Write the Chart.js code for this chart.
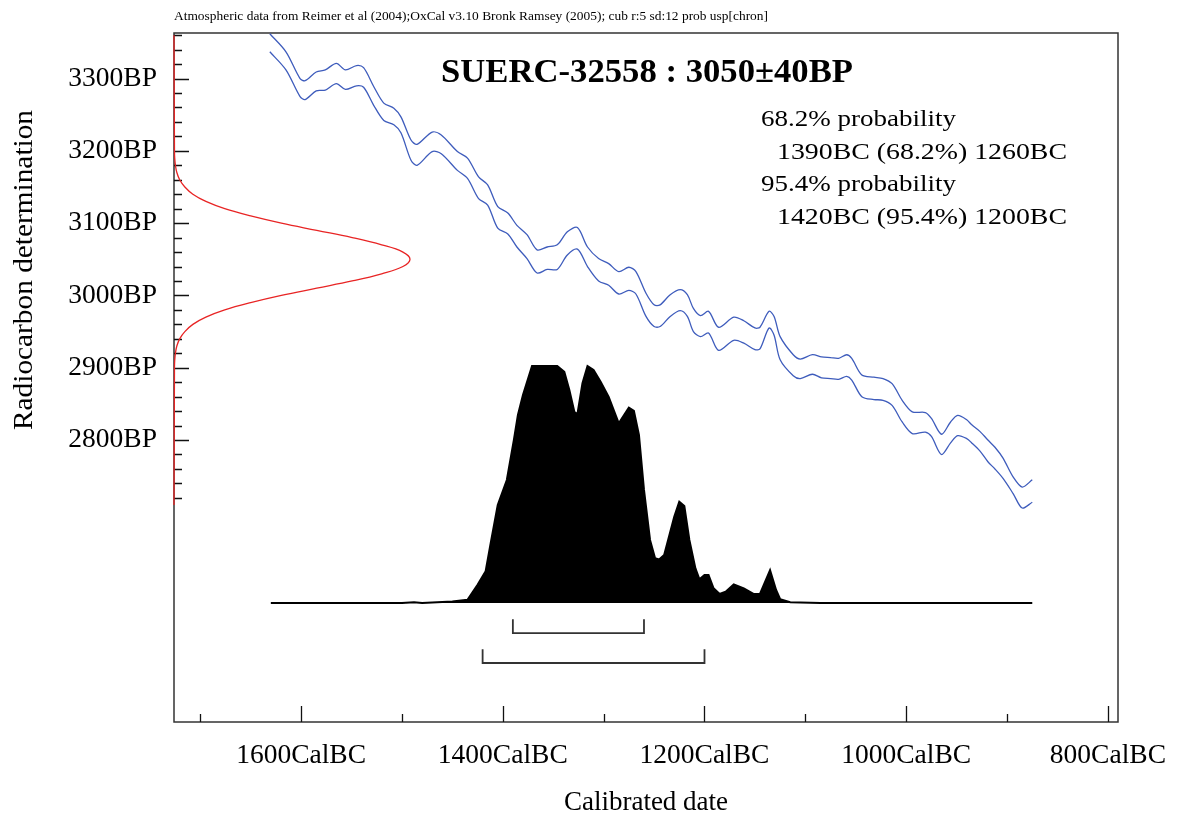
<!DOCTYPE html>
<html>
<head>
<meta charset="utf-8">
<script src="https://cdn.jsdelivr.net/npm/chart.js@4.4.1/dist/chart.umd.min.js"></script>
<style>
html, body { margin: 0; padding: 0; background: #fff; }
canvas { display: block; }
</style>
</head>
<body>
<canvas id="chart" width="1178" height="819"></canvas>
<script>
// calibration curve, upper and lower 1 sigma lines (cal BC / BP)
const curveYears = [1631, 1615, 1601, 1596, 1585, 1576, 1565, 1556, 1545, 1538, 1528, 1518, 1508, 1501, 1491, 1485,
    1470, 1461, 1445, 1435, 1424, 1415, 1405, 1395, 1386, 1376, 1366, 1356, 1346, 1336, 1326, 1316, 1305, 1295,
    1285, 1275, 1268, 1258, 1250, 1244, 1234, 1224, 1217, 1211, 1204, 1196, 1186, 1171, 1161, 1150, 1145, 1136,
    1131, 1125, 1112, 1105, 1093, 1084, 1075, 1067, 1059, 1054, 1044, 1032, 1023, 1014, 1004, 994, 981, 975, 965,
    956, 949, 940, 935, 927, 919, 912, 904, 894, 885, 875];
const curveUpper = [3362, 3337, 3300, 3297, 3309, 3312, 3321, 3312, 3318, 3315, 3289, 3266, 3259, 3247, 3215, 3209,
    3226, 3222, 3199, 3190, 3164, 3153, 3123, 3114, 3097, 3084, 3063, 3067, 3070, 3088, 3094, 3067, 3051, 3044,
    3033, 3039, 3033, 3003, 2987, 2987, 3001, 3008, 3001, 2982, 2972, 2978, 2956, 2970, 2965, 2955, 2956, 2978,
    2971, 2943, 2918, 2912, 2918, 2915, 2914, 2913, 2918, 2913, 2890, 2887, 2885, 2878, 2855, 2839, 2838, 2830, 2808,
    2825, 2834, 2828, 2821, 2812, 2800, 2790, 2775, 2749, 2735, 2745];
const curveLower = [3337, 3312, 3275, 3271, 3283, 3284, 3293, 3285, 3290, 3288, 3263, 3242, 3236, 3225, 3187, 3180,
    3199, 3196, 3173, 3162, 3134, 3125, 3093, 3085, 3067, 3051, 3031, 3036, 3036, 3056, 3064, 3040, 3020, 3014,
    3002, 3007, 3002, 2971, 2957, 2957, 2971, 2979, 2971, 2950, 2943, 2948, 2924, 2938, 2934, 2925, 2926, 2955,
    2945, 2911, 2889, 2885, 2891, 2886, 2885, 2884, 2888, 2883, 2860, 2856, 2855, 2848, 2825, 2809, 2811, 2805, 2780,
    2796, 2806, 2802, 2796, 2785, 2770, 2760, 2747, 2726, 2706, 2714];

// radiocarbon measurement 3050 +/- 40 BP, relative density
const dateBP = [3360, 3200, 3190, 3180, 3170, 3160, 3150, 3140, 3130, 3120, 3110, 3100, 3090, 3080, 3070, 3060, 3050,
    3040, 3030, 3020, 3010, 3000, 2990, 2980, 2970, 2960, 2950, 2940, 2930, 2920, 2910, 2900, 2710];
const dateDensity = [0, 0.002, 0.003, 0.006, 0.012, 0.024, 0.046, 0.08, 0.135, 0.215, 0.325, 0.455, 0.605, 0.755, 0.88,
    0.97, 1, 0.97, 0.88, 0.755, 0.605, 0.455, 0.325, 0.215, 0.135, 0.08, 0.046, 0.024, 0.012, 0.006, 0.003, 0.002, 0];

// calibrated date, relative probability
const probYears = [1630, 1500, 1488, 1480, 1450, 1435, 1425, 1417, 1412, 1405, 1396, 1389, 1385, 1380, 1371, 1362,
    1346, 1339, 1334, 1329, 1326, 1321, 1316, 1310, 1303, 1295, 1285, 1275, 1270, 1265, 1260, 1254, 1249, 1245, 1240,
    1230, 1225, 1220, 1215, 1209, 1205, 1200, 1196, 1191, 1185, 1179, 1171, 1161, 1151, 1145, 1135, 1129, 1125, 1115,
    1085, 875];
const probValues = [0, 0, 0.003, 0, 0.006, 0.014, 0.077, 0.134, 0.253, 0.413, 0.519, 0.688, 0.793, 0.878, 1, 1,
    1, 0.975, 0.899, 0.806, 0.797, 0.927, 1, 0.983, 0.934, 0.87, 0.758, 0.824, 0.811, 0.709, 0.477, 0.266, 0.189, 0.184,
    0.203, 0.364, 0.427, 0.409, 0.266, 0.146, 0.1, 0.118, 0.118, 0.062, 0.038, 0.048, 0.079, 0.062, 0.038, 0.038,
    0.139, 0.055, 0.016, 0.003, 0, 0];

// 68.2% and 95.4% ranges
const rangeFrom = [1390, 1420];
const rangeTo = [1260, 1200];

const xTickValues = [1700, 1600, 1500, 1400, 1300, 1200, 1100, 1000, 900, 800];
const xLabelValues = [1600, 1400, 1200, 1000, 800];
const yLabelValues = [2800, 2900, 3000, 3100, 3200, 3300];

const captionText = 'Atmospheric data from Reimer et al (2004);OxCal v3.10 Bronk Ramsey (2005); cub r:5 sd:12 prob usp[chron]';
const titleText = 'SUERC-32558 : 3050\u00b140BP';
const infoLines = ['68.2% probability', '  1390BC (68.2%) 1260BC', '95.4% probability', '  1420BC (95.4%) 1200BC'];

const serif = "'Liberation Serif', 'Times New Roman', serif";
const blue = 'rgb(62,92,188)';
const red = 'rgb(232,36,36)';

// minor ticks every 20 BP
const yTickValues = [];
for (let v = 2720; v <= 3360; v += 20) yTickValues.push(v);

const xy = (xs, ys) => xs.map((x, i) => ({ x: x, y: ys[i] }));

// bracket levels under the distribution (units of the probability axis)
const bracketTop = [-0.068, -0.195];
const bracketBottom = [-0.127, -0.253];
const brackets = rangeFrom.map((from, i) => ({
    data: [
        { x: from, y: bracketTop[i] }, { x: from, y: bracketBottom[i] },
        { x: rangeTo[i], y: bracketBottom[i] }, { x: rangeTo[i], y: bracketTop[i] }
    ],
    xAxisID: 'x', yAxisID: 'yp',
    borderColor: '#333', borderWidth: 1.8, pointRadius: 0, tension: 0, fill: false
}));

function fitText(ctx, text, x, y, width, font) {
    ctx.font = font;
    const w = ctx.measureText(text.trimStart()).width;
    ctx.save();
    ctx.translate(x, y);
    ctx.scale(width / w, 1);
    ctx.fillText(text.trimStart(), 0, 0);
    ctx.restore();
}

const frame = {
    id: 'frame',
    beforeDatasetsDraw(chart) {
        const ctx = chart.ctx;
        const a = chart.chartArea;
        const sx = chart.scales.x, sy = chart.scales.y;
        ctx.save();
        ctx.strokeStyle = '#333';
        ctx.lineWidth = 1.5;
        ctx.strokeRect(a.left, a.top, a.right - a.left, a.bottom - a.top);
        ctx.strokeStyle = '#111';
        ctx.lineWidth = 1.3;
        ctx.beginPath();
        yTickValues.forEach(v => {
            const py = Math.round(sy.getPixelForValue(v)) + 0.5;
            const len = v % 100 === 0 ? 15 : 8;
            ctx.moveTo(a.left, py);
            ctx.lineTo(a.left + len, py);
        });
        xTickValues.forEach(v => {
            const px = Math.round(sx.getPixelForValue(v)) + 0.5;
            const len = v % 200 === 0 ? 16 : 8;
            ctx.moveTo(px, a.bottom);
            ctx.lineTo(px, a.bottom - len);
        });
        ctx.stroke();
        ctx.restore();
    },
    afterDraw(chart) {
        const ctx = chart.ctx;
        ctx.save();
        ctx.fillStyle = '#000';
        ctx.textBaseline = 'alphabetic';
        ctx.textAlign = 'left';
        fitText(ctx, captionText, 174, 20, 594, '13px ' + serif);
        fitText(ctx, titleText, 441, 82, 412, 'bold 33px ' + serif);
        fitText(ctx, infoLines[0], 761, 126, 195, '24px ' + serif);
        fitText(ctx, infoLines[1], 777, 158.5, 290, '24px ' + serif);
        fitText(ctx, infoLines[2], 761, 191, 195, '24px ' + serif);
        fitText(ctx, infoLines[3], 777, 223.5, 290, '24px ' + serif);
        ctx.save();
        ctx.translate(32, 430);
        ctx.rotate(-Math.PI / 2);
        fitText(ctx, 'Radiocarbon determination', 0, 0, 320, '27px ' + serif);
        ctx.restore();
        ctx.restore();
    }
};

Chart.defaults.font.family = serif;
Chart.defaults.color = '#000';

new Chart(document.getElementById('chart').getContext('2d'), {
    type: 'line',
    data: {
        datasets: [
            {
                label: 'probability',
                data: xy(probYears, probValues),
                xAxisID: 'x', yAxisID: 'yp',
                borderColor: '#000', backgroundColor: '#000', borderWidth: 2,
                pointRadius: 0, tension: 0, fill: { value: 0 }
            },
            {
                label: 'curve upper',
                data: xy(curveYears, curveUpper),
                xAxisID: 'x', yAxisID: 'y',
                borderColor: blue, borderWidth: 1.3, pointRadius: 0, tension: 0.3, fill: false
            },
            {
                label: 'curve lower',
                data: xy(curveYears, curveLower),
                xAxisID: 'x', yAxisID: 'y',
                borderColor: blue, borderWidth: 1.3, pointRadius: 0, tension: 0.3, fill: false
            },
            {
                label: 'measurement',
                data: dateDensity.map((d, i) => ({ x: d, y: dateBP[i] })),
                xAxisID: 'xr', yAxisID: 'y',
                borderColor: red, borderWidth: 1.3, pointRadius: 0, tension: 0.4, fill: false, clip: false
            },
            ...brackets
        ]
    },
    options: {
        responsive: false,
        animation: false,
        devicePixelRatio: 1,
        layout: { padding: { top: 33, right: 60, left: 0, bottom: 0 } },
        plugins: { legend: { display: false }, tooltip: { enabled: false } },
        scales: {
            x: {
                type: 'linear',
                position: 'bottom',
                reverse: true,
                min: 790,
                max: 1726,
                afterFit: s => { s.height = 97; s.paddingLeft = 0; s.paddingRight = 0; },
                afterBuildTicks: s => { s.ticks = xTickValues.map(v => ({ value: v })); },
                ticks: {
                    autoSkip: false, maxRotation: 0, padding: 17,
                    font: { size: 27.5 }, color: '#000',
                    callback: v => xLabelValues.includes(v) ? v + 'CalBC' : ''
                },
                grid: { display: false, drawTicks: false },
                border: { display: false },
                title: { display: true, text: 'Calibrated date', font: { size: 27 }, color: '#000', padding: 0 }
            },
            y: {
                type: 'linear',
                position: 'left',
                min: 2410,
                max: 3363,
                afterFit: s => { s.width = 174; s.paddingTop = 0; s.paddingBottom = 0; },
                afterBuildTicks: s => { s.ticks = yLabelValues.map(v => ({ value: v })); },
                ticks: {
                    autoSkip: false, padding: 17,
                    font: { size: 27.5 }, color: '#000',
                    callback: v => v + 'BP'
                },
                grid: { display: false, drawTicks: false },
                border: { display: false }
            },
            xr: { type: 'linear', display: false, min: 0, max: 4 },
            yp: { type: 'linear', display: false, min: -0.502, max: 2.405 }
        }
    },
    plugins: [frame]
});
</script>
</body>
</html>
